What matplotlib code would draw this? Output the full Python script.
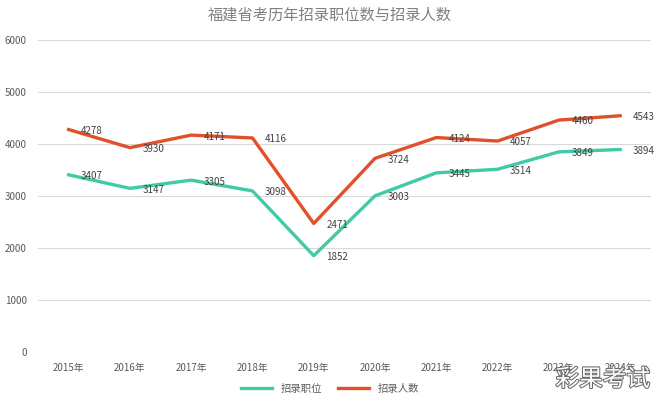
import matplotlib.pyplot as plt
import matplotlib.patheffects as pe

plt.rcParams['font.family'] = ['Noto Sans CJK SC', 'DejaVu Sans']

years = ['2015年', '2016年', '2017年', '2018年', '2019年',
         '2020年', '2021年', '2022年', '2023年', '2024年']
positions = [3407, 3147, 3305, 3098, 1852, 3003, 3445, 3514, 3849, 3894]
applicants = [4278, 3930, 4171, 4116, 2471, 3724, 4124, 4057, 4460, 4543]

fig = plt.figure(figsize=(6.6, 4.03), dpi=100)
ax = fig.add_axes([0.0576, 0.1266, 0.9284, 0.7741])

x = range(len(years))
ax.plot(x, positions, color='#3ECBA5', linewidth=2.4, label='招录职位')
ax.plot(x, applicants, color='#E1502B', linewidth=2.4, label='招录人数')

# 数据标签放在点的右侧
for i in x:
    ax.annotate(str(positions[i]), (i, positions[i]), xytext=(9, -1),
                textcoords='offset points', ha='left', va='center',
                fontsize=7, color='#404040')
    ax.annotate(str(applicants[i]), (i, applicants[i]), xytext=(9, -1),
                textcoords='offset points', ha='left', va='center',
                fontsize=7, color='#404040')

ax.set_xlim(-0.5, 9.5)
ax.set_ylim(0, 6000)
ax.set_yticks(range(0, 6001, 1000))
ax.set_xticks(list(x))
ax.set_xticklabels(years)
ax.grid(axis='y', color='#d9d9d9', linewidth=0.8)
ax.set_axisbelow(True)
for s in ax.spines.values():
    s.set_visible(False)
ax.tick_params(length=0, labelsize=7, colors='#595959', pad=8)

fig.text(0.5, 0.963, '福建省考历年招录职位数与招录人数', ha='center', va='center',
         fontsize=11, color='#7f7f7f')

fig.legend(loc='center', bbox_to_anchor=(0.5, 0.035), ncol=2, frameon=False,
           fontsize=7.5, handlelength=3, columnspacing=1.5,
           labelcolor='#595959')

# 水印
fig.text(0.985, 0.058, '彩果考试', ha='right', va='center', fontsize=17,
         color='white', path_effects=[pe.withStroke(linewidth=1.5, foreground='#6b6b6b')])

fig.savefig('out.png', dpi=100)
